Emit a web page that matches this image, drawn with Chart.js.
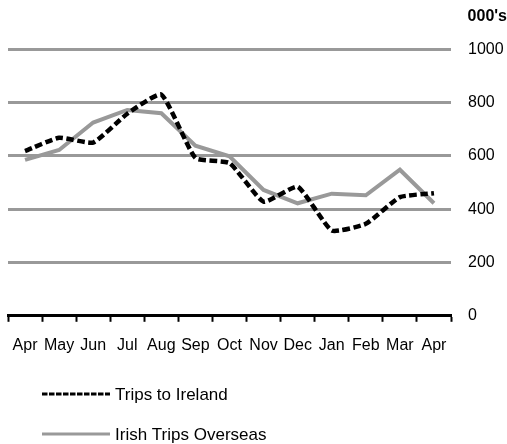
<!DOCTYPE html>
<html>
<head>
<meta charset="utf-8">
<script src="https://cdn.jsdelivr.net/npm/chart.js@4/dist/chart.umd.min.js"></script>
<style>
html,body{margin:0;padding:0;background:#fff;}
#wrap{position:relative;width:507px;height:444px;}
</style>
</head>
<body>
<div id="wrap"><canvas id="c" width="507" height="444"></canvas></div>
<script>
const categories = ["Apr","May","Jun","Jul","Aug","Sep","Oct","Nov","Dec","Jan","Feb","Mar","Apr"];
const tripsToIreland = [618, 668, 650, 758, 830, 592, 573, 428, 484, 320, 345, 445, 460];
const irishTripsOverseas = [585, 622, 725, 772, 760, 638, 598, 472, 422, 458, 452, 548, 422];
const yTicks = [0, 200, 400, 600, 800, 1000];
const unitLabel = "000's";
const seriesNames = ["Trips to Ireland", "Irish Trips Overseas"];

const FONT = "'Liberation Sans', Arial, sans-serif";

const legendPlugin = {
  id: 'customLegend',
  afterDraw(chart) {
    const ctx = chart.ctx;
    const items = chart.data.datasets;
    const x0 = 42, lineLen = 68, ys = [394, 434];
    ctx.save();
    items.forEach((ds, i) => {
      const y = ys[i];
      ctx.beginPath();
      ctx.strokeStyle = ds.borderColor;
      ctx.lineWidth = 3;
      ctx.setLineDash(i === 0 ? [5.5, 1.5] : []);
      ctx.moveTo(x0, y);
      ctx.lineTo(x0 + lineLen, y);
      ctx.stroke();
      ctx.setLineDash([]);
      ctx.fillStyle = '#000';
      ctx.font = "17px " + FONT;
      ctx.textBaseline = 'middle';
      ctx.textAlign = 'left';
      ctx.fillText(ds.label, x0 + lineLen + 5, y + 1);
    });
    ctx.restore();
  }
};

new Chart(document.getElementById('c'), {
  type: 'line',
  data: {
    labels: categories,
    datasets: [
      {
        label: seriesNames[0],
        data: tripsToIreland,
        borderColor: '#000000',
        borderWidth: 4.5,
        borderDash: [7.5, 3.5],
        pointRadius: 0,
        tension: 0.15,
        fill: false
      },
      {
        label: seriesNames[1],
        data: irishTripsOverseas,
        borderColor: '#999999',
        borderWidth: 4,
        pointRadius: 0,
        tension: 0,
        fill: false
      }
    ]
  },
  options: {
    responsive: false,
    animation: false,
    devicePixelRatio: 1,
    layout: { padding: { left: 8, right: 0, top: 0, bottom: 75 } },
    plugins: {
      legend: { display: false },
      tooltip: { enabled: false },
      title: {
        display: true,
        text: unitLabel,
        align: 'end',
        color: '#000',
        font: { family: FONT, size: 16, weight: 'bold' },
        padding: { top: 7, bottom: 23 }
      }
    },
    scales: {
      x: {
        offset: true,
        afterFit(axis) { axis.paddingLeft = 0; axis.paddingRight = 0; },
        grid: {
          display: true,
          offset: true,
          drawOnChartArea: false,
          drawTicks: true,
          tickLength: 6,
          tickWidth: 2,
          tickColor: '#000'
        },
        border: { display: true, color: '#000', width: 3 },
        ticks: {
          color: '#000',
          font: { family: FONT, size: 16 },
          padding: 14,
          maxRotation: 0,
          autoSkip: false
        }
      },
      y: {
        position: 'right',
        min: 0,
        max: 1000,
        afterBuildTicks(axis) { axis.ticks = yTicks.map(v => ({ value: v })); },
        afterFit(axis) { axis.width = 56; },
        grid: {
          color: '#999999',
          lineWidth: 3,
          drawTicks: false
        },
        border: { display: false },
        ticks: {
          color: '#000',
          font: { family: FONT, size: 16 },
          padding: 17,
          callback: (v) => String(v)
        }
      }
    }
  },
  plugins: [legendPlugin]
});
</script>
</body>
</html>
